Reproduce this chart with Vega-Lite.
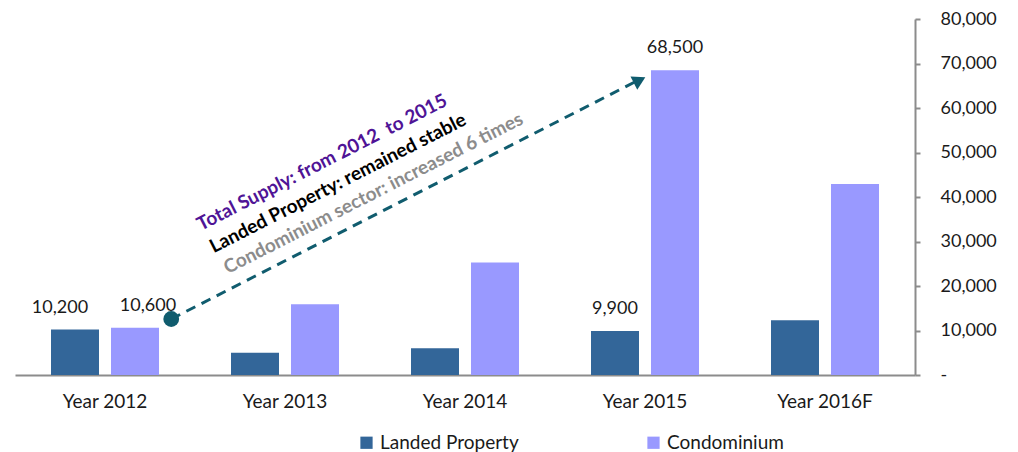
{
  "$schema": "https://vega.github.io/schema/vega-lite/v6.json",
  "autosize": {"type": "none"},
  "width": 900,
  "height": 356,
  "padding": {"left": 15, "top": 19, "right": 103, "bottom": 77},
  "config": {
    "font": "Lato",
    "view": {"stroke": null},
    "axis": {"grid": false, "labelFont": "Lato", "labelFontSize": 18, "labelColor": "#1a1a1a", "domainColor": "#8c8c8c", "domainWidth": 2, "tickColor": "#8c8c8c", "tickWidth": 2}
  },
  "datasets": {
    "supply": [
      {"year": "Year 2012", "type": "Landed Property", "value": 10200, "label": "10,200"},
      {"year": "Year 2012", "type": "Condominium", "value": 10600, "label": "10,600"},
      {"year": "Year 2013", "type": "Landed Property", "value": 5000, "label": null},
      {"year": "Year 2013", "type": "Condominium", "value": 15900, "label": null},
      {"year": "Year 2014", "type": "Landed Property", "value": 6000, "label": null},
      {"year": "Year 2014", "type": "Condominium", "value": 25300, "label": null},
      {"year": "Year 2015", "type": "Landed Property", "value": 9900, "label": "9,900"},
      {"year": "Year 2015", "type": "Condominium", "value": 68500, "label": "68,500"},
      {"year": "Year 2016F", "type": "Landed Property", "value": 12300, "label": null},
      {"year": "Year 2016F", "type": "Condominium", "value": 42900, "label": null}
    ],
    "arrow": [
      {"ax": 0.868, "ay": 12580},
      {"ax": 3.443, "ay": 65840}
    ],
    "start": [{"ax": 0.868, "ay": 12580}],
    "head": [{"ax": 3.47, "ay": 66250}],
    "t1": [{"ax": 1.706, "ay": 47750, "t": "Total Supply: from 2012\u00a0 to 2015"}],
    "t2": [{"ax": 1.794, "ay": 43080, "t": "Landed Property: remained stable"}],
    "t3": [{"ax": 1.991, "ay": 40830, "t": "Condominium sector: increased 6 times"}]
  },
  "layer": [
    {
      "data": {"name": "supply"},
      "encoding": {
        "x": {"field": "year", "type": "nominal", "sort": null,
          "scale": {"paddingInner": 0.4, "paddingOuter": 0.2},
          "axis": {"title": null, "labelAngle": 0, "ticks": false, "labelPadding": 17, "labelFontSize": 19}},
        "xOffset": {"field": "type", "type": "nominal", "sort": ["Landed Property", "Condominium"],
          "scale": {"paddingInner": 0.2, "paddingOuter": 0}},
        "y": {"field": "value", "type": "quantitative",
          "scale": {"domain": [0, 80000], "nice": false},
          "axis": {"orient": "right", "title": null, "values": [0, 10000, 20000, 30000, 40000, 50000, 60000, 70000, 80000],
            "labelExpr": "datum.value === 0 ? '-' : format(datum.value, ',')", "tickSize": 5, "labelPadding": 20, "labelAlign": "left"}}
      },
      "layer": [
        {
          "mark": {"type": "bar"},
          "encoding": {
            "color": {"field": "type", "type": "nominal",
              "scale": {"domain": ["Landed Property", "Condominium"], "range": ["#336699", "#9999ff"]},
              "legend": {"title": null, "orient": "none", "direction": "horizontal", "legendX": 342, "legendY": 414,
                "symbolType": "square", "symbolSize": 150, "symbolStrokeWidth": 0, "symbolOpacity": 1,
                "labelFontSize": 19, "labelFont": "Lato", "labelColor": "#1a1a1a", "labelOffset": 4, "columnPadding": 125}}
          }
        },
        {
          "transform": [{"filter": "datum.label != null && datum.year == 'Year 2012' && datum.type == 'Landed Property'"}],
          "mark": {"type": "text", "baseline": "bottom", "dy": -13, "dx": -15, "fontSize": 18, "color": "#1a1a1a"},
          "encoding": {"text": {"field": "label"}}
        },
        {
          "transform": [{"filter": "datum.label != null && datum.year == 'Year 2012' && datum.type == 'Condominium'"}],
          "mark": {"type": "text", "baseline": "bottom", "dy": -13, "dx": 13, "fontSize": 18, "color": "#1a1a1a"},
          "encoding": {"text": {"field": "label"}}
        },
        {
          "transform": [{"filter": "datum.label != null && datum.year != 'Year 2012'"}],
          "mark": {"type": "text", "baseline": "bottom", "dy": -13, "fontSize": 18, "color": "#1a1a1a"},
          "encoding": {"text": {"field": "label"}}
        }
      ]
    },
    {
      "layer": [
        {
          "data": {"name": "arrow"},
          "mark": {"type": "line", "color": "#105c6e", "strokeWidth": 3, "strokeDash": [10, 7]},
          "encoding": {
            "x": {"field": "ax", "type": "quantitative", "scale": {"domain": [0, 5], "nice": false, "zero": false}, "axis": null},
            "y": {"field": "ay", "type": "quantitative"}
          }
        },
        {
          "data": {"name": "start"},
          "mark": {"type": "point", "shape": "circle", "filled": true, "size": 250, "color": "#105c6e", "opacity": 1},
          "encoding": {
            "x": {"field": "ax", "type": "quantitative"},
            "y": {"field": "ay", "type": "quantitative"}
          }
        },
        {
          "data": {"name": "head"},
          "mark": {"type": "point", "shape": "triangle-up", "filled": true, "size": 220, "angle": 63, "color": "#105c6e", "opacity": 1},
          "encoding": {
            "x": {"field": "ax", "type": "quantitative"},
            "y": {"field": "ay", "type": "quantitative"}
          }
        },
        {
          "data": {"name": "t1"},
          "mark": {"type": "text", "angle": -27, "align": "center", "baseline": "middle", "fontSize": 19, "fontWeight": "bold", "color": "#4f1496"},
          "encoding": {
            "x": {"field": "ax", "type": "quantitative"},
            "y": {"field": "ay", "type": "quantitative"},
            "text": {"field": "t"}
          }
        },
        {
          "data": {"name": "t2"},
          "mark": {"type": "text", "angle": -27, "align": "center", "baseline": "middle", "fontSize": 19, "fontWeight": "bold", "color": "#000000"},
          "encoding": {
            "x": {"field": "ax", "type": "quantitative"},
            "y": {"field": "ay", "type": "quantitative"},
            "text": {"field": "t"}
          }
        },
        {
          "data": {"name": "t3"},
          "mark": {"type": "text", "angle": -27, "align": "center", "baseline": "middle", "fontSize": 19, "fontWeight": "bold", "color": "#8c8c8c"},
          "encoding": {
            "x": {"field": "ax", "type": "quantitative"},
            "y": {"field": "ay", "type": "quantitative"},
            "text": {"field": "t"}
          }
        }
      ]
    }
  ],
  "resolve": {"scale": {"x": "independent"}}
}
